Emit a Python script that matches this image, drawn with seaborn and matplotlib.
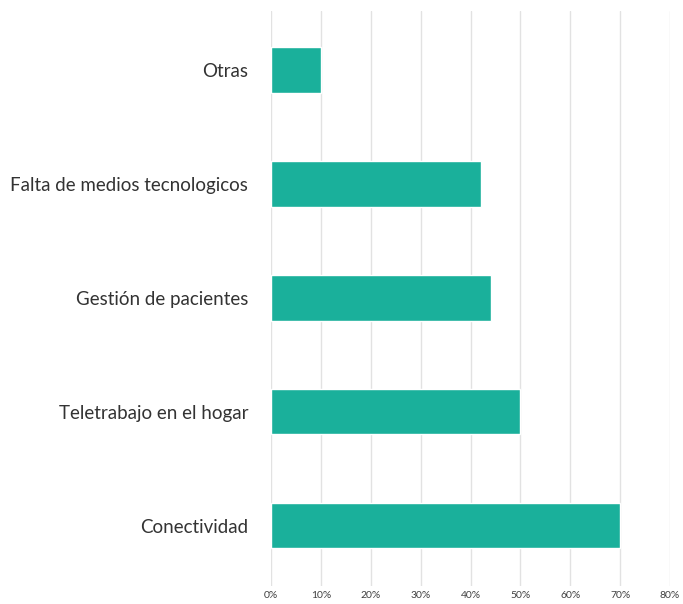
import matplotlib
matplotlib.use("Agg")
import matplotlib.pyplot as plt
import seaborn as sns
import pandas as pd

categories = ["Otras", "Falta de medios tecnologicos", "Gestión de pacientes",
              "Teletrabajo en el hogar", "Conectividad"]
values = [10, 42, 44, 50, 70]
x_ticks = [0, 10, 20, 30, 40, 50, 60, 70, 80]
x_tick_labels = ["0%", "10%", "20%", "30%", "40%", "50%", "60%", "70%", "80%"]

df = pd.DataFrame({"categoria": categories, "valor": values})

sns.set_theme(style="white")
plt.rcParams["font.family"] = ["Lato", "DejaVu Sans"]

fig = plt.figure(figsize=(6.83, 6.04), dpi=100)
ax = fig.add_axes([0.397, 0.03, 0.584, 0.952])

sns.barplot(data=df, x="valor", y="categoria", orient="h", color="#1AB09B",
            saturation=1, width=0.4, ax=ax, zorder=3)

ax.set_xlim(0, 80)
ax.set_ylim(4.53, -0.52)
ax.set_xticks(x_ticks)
ax.set_xticklabels(x_tick_labels, fontsize=7.5, color="#404040")
ax.xaxis.grid(True, color="#E2E2E2", linewidth=1.0, zorder=0)
ax.tick_params(axis="x", length=0, pad=3.5)
ax.tick_params(axis="y", length=0, pad=16.5, labelsize=13.5, labelcolor="#333333")
ax.set_xlabel("")
ax.set_ylabel("")
for s in ax.spines.values():
    s.set_visible(False)

fig.savefig("out.png", dpi=100)
